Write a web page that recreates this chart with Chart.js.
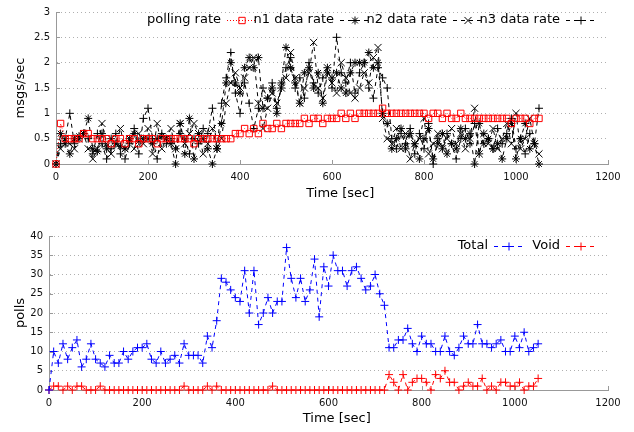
<!DOCTYPE html>
<html>
<head>
<meta charset="utf-8">
<title>data rate and polls</title>
<script src="https://cdn.jsdelivr.net/npm/chart.js"></script>
<style>
  html, body { margin: 0; padding: 0; background: #fff; }
  #wrap { position: relative; width: 634px; height: 432px; }
  canvas { position: absolute; left: 0; }
  #rates { top: 0; }
  #polls { top: 215px; }
</style>
</head>
<body>
<div id="wrap">
  <canvas id="rates" width="634" height="215"></canvas>
  <canvas id="polls" width="634" height="217"></canvas>
</div>
<script>
// sample times (sec)
const timeSec = [
  0, 10, 20, 30, 40, 50, 60, 70, 80, 90,
  100, 110, 120, 130, 140, 150, 160, 170, 180, 190,
  200, 210, 220, 230, 240, 250, 260, 270, 280, 290,
  300, 310, 320, 330, 340, 350, 360, 370, 380, 390,
  400, 410, 420, 430, 440, 450, 460, 470, 480, 490,
  500, 510, 520, 530, 540, 550, 560, 570, 580, 590,
  600, 610, 620, 630, 640, 650, 660, 670, 680, 690,
  700, 710, 720, 730, 740, 750, 760, 770, 780, 790,
  800, 810, 820, 830, 840, 850, 860, 870, 880, 890,
  900, 910, 920, 930, 940, 950, 960, 970, 980, 990,
  1000, 1010, 1020, 1030, 1040, 1050
];

// msgs/sec
const pollingRate = [
  0, 0.8, 0.5, 0.5, 0.5, 0.5, 0.6, 0.6, 0.5, 0.5,
  0.5, 0.5, 0.4, 0.5, 0.5, 0.4, 0.5, 0.5, 0.4, 0.5,
  0.5, 0.5, 0.4, 0.5, 0.5, 0.5, 0.5, 0.5, 0.5, 0.5,
  0.4, 0.5, 0.5, 0.5, 0.5, 0.5, 0.5, 0.5, 0.5, 0.6,
  0.6, 0.7, 0.6, 0.7, 0.6, 0.8, 0.7, 0.7, 0.8, 0.7,
  0.8, 0.8, 0.8, 0.8, 0.9, 0.8, 0.9, 0.9, 0.8, 0.9,
  0.9, 0.9, 1.0, 0.9, 1.0, 0.9, 1.0, 1.0, 1.0, 1.0,
  1.0, 1.1, 1.0, 1.0, 1.0, 1.0, 1.0, 1.0, 1.0, 1.0,
  1.0, 0.9, 1.0, 1.0, 0.9, 1.0, 0.9, 0.9, 1.0, 0.9,
  0.9, 0.9, 0.9, 0.9, 0.9, 0.9, 0.9, 0.9, 0.9, 0.8,
  0.9, 0.9, 0.9, 0.8, 0.9, 0.9
];
const n1Rate = [
  0, 0.6, 0.4, 0.2, 0.5, 0.55, 0.6, 0.9, 0.3, 0.25,
  0.6, 0.3, 0.5, 0.4, 0.35, 0.3, 0.5, 0.6, 0.45, 0.5,
  0.5, 0.4, 0.5, 0.55, 0.5, 0.4, 0, 0.8, 0.2, 0.9,
  0.1, 0.6, 0.5, 0.3, 0, 0.3, 0.8, 1.6, 2.0, 1.6,
  1.4, 1.9, 2.1, 1.9, 2.1, 1.1, 1.3, 1.5, 1.0, 1.6,
  2.3, 1.9, 1.6, 1.2, 1.8, 1.9, 1.5, 1.8, 1.2, 1.8,
  1.7, 1.8, 1.5, 1.4, 1.8, 2.0, 2.0, 2.0, 2.2, 1.9,
  2.0, 1.0, 0.8, 0.3, 0.5, 0.7, 0.3, 0.6, 0.4, 0.1,
  0.5, 0.7, 0.1, 0.4, 0.6, 0.2, 0.4, 0.3, 0.7, 0.5,
  0.6, 0, 0.8, 0.4, 0.5, 0.3, 0.4, 0.1, 0.5, 0.8,
  0.1, 0.5, 0.8, 0.3, 0.4, 0
];
const n2Rate = [
  0, 0.3, 0.5, 0.4, 0.3, 0.5, 0.6, 0.3, 0.1, 0.3,
  0.8, 0.4, 0.2, 0.4, 0.7, 0.3, 0.5, 0.3, 0.6, 0.4,
  0.7, 0.2, 0.8, 0.3, 0.5, 0.7, 0.3, 0.8, 0.4, 0.6,
  0.8, 0.6, 0.2, 0.4, 0.7, 0.3, 0.5, 1.2, 1.6, 1.8,
  1.5, 1.7, 1.9, 2.1, 1.2, 0.7, 1.1, 1.4, 1.2, 1.5,
  1.7, 2.2, 1.7, 1.2, 1.5, 1.8, 2.4, 1.5, 1.3, 1.9,
  1.6, 1.4, 2.0, 1.7, 1.4, 1.3, 1.5, 1.8, 1.6, 2.1,
  2.3, 0.9, 0.5, 0.4, 0.7, 0.3, 0.6, 0.1, 0.4, 0.5,
  0.9, 0.2, 0.4, 0.6, 0.3, 0.5, 0.7, 0.4, 0.6, 0.3,
  0.5, 1.1, 0.2, 0.6, 0.4, 0.7, 0.3, 0.5, 0.8, 0.4,
  1.0, 0.3, 0.5, 0.9, 0.4, 0.2
];
const n3Rate = [
  0, 0.4, 0.5, 1.0, 0.4, 0.5, 0.6, 0.5, 0.2, 0.6,
  0.4, 0.1, 0.3, 0.6, 0.2, 0.1, 0.4, 0.7, 0.2, 0.9,
  1.1, 0.5, 0.1, 0.6, 0.4, 0.5, 0.3, 0.6, 0.5, 0.2,
  0.5, 0.4, 0.7, 0.6, 1.1, 0.3, 1.2, 1.7, 2.2, 1.4,
  1.0, 1.6, 1.2, 0.7, 1.1, 1.5, 1.3, 1.6, 1.1, 1.5,
  1.9, 2.1, 1.5, 1.7, 1.3, 2.0, 1.6, 1.4, 1.7, 1.9,
  1.5, 2.5, 1.8, 1.6, 2.0, 1.4, 1.8, 2.0, 1.5, 1.3,
  1.9, 1.7, 1.5, 0.5, 0.3, 0.6, 0.4, 0.7, 0.2, 0.6,
  0.3, 0.8, 0, 0.5, 0.3, 0.6, 0.4, 0.1, 0.5, 0.7,
  0.4, 0.8, 0.2, 0.6, 0.5, 0.3, 0.7, 0.4, 0.6, 0.9,
  0.3, 0.5, 0.2, 0.6, 0.4, 1.1
];

// polls per interval
const totalPolls = [
  0, 10, 7, 12, 8, 11, 13, 6, 8, 12,
  8, 7, 6, 9, 7, 7, 10, 8, 10, 11,
  11, 12, 8, 7, 10, 7, 8, 9, 7, 12,
  9, 9, 9, 7, 14, 11, 18, 29, 28, 26,
  24, 23, 31, 20, 31, 17, 20, 24, 20, 23,
  23, 37, 29, 24, 29, 23, 26, 34, 19, 32,
  27, 35, 31, 31, 27, 31, 32, 29, 26, 27,
  30, 25, 22, 11, 11, 13, 13, 16, 12, 10,
  14, 12, 12, 10, 10, 14, 10, 9, 11, 14,
  12, 12, 17, 12, 12, 11, 12, 13, 10, 10,
  14, 11, 15, 10, 11, 12
];
const voidPolls = [
  0, 1, 1, 0, 1, 0, 1, 1, 0, 0,
  0, 1, 0, 0, 0, 0, 0, 0, 0, 0,
  0, 0, 0, 0, 0, 0, 0, 0, 0, 1,
  0, 0, 0, 0, 1, 0, 1, 0, 0, 0,
  0, 0, 0, 0, 0, 0, 0, 0, 1, 0,
  0, 0, 0, 0, 0, 0, 0, 0, 0, 0,
  0, 0, 0, 0, 0, 0, 0, 0, 0, 0,
  0, 0, 0, 4, 2, 0, 4, 0, 2, 3,
  3, 2, 0, 4, 3, 5, 2, 2, 0, 1,
  2, 1, 1, 3, 0, 1, 0, 2, 2, 1,
  1, 2, 0, 1, 1, 3
];

const FONT = 'DejaVu Sans';
const AXIS_GREY = '#999';

const toPoints = (vals) => timeSec.map((t, i) => ({ x: t, y: vals[i] }));
// plain numbers on the axes: "0", "0.5", "1200"
const plainTick = (v) => String(v);

function series(label, vals, color, dash, mark, radius) {
  return {
    label: label,
    data: toPoints(vals),
    borderColor: color,
    borderWidth: 1,
    borderDash: dash,
    tension: 0,
    pointStyle: mark,
    pointRadius: radius,
    pointBorderWidth: 1,
    pointBorderColor: color,
    pointBackgroundColor: 'rgba(0,0,0,0)',
    clip: false
  };
}

// small marker used in the key samples
function drawMark(ctx, style, x, y, r, color) {
  ctx.strokeStyle = color;
  ctx.beginPath();
  if (style === 'rect') {
    const s = r * Math.SQRT1_2;
    ctx.rect(x - s, y - s, 2 * s, 2 * s);
  }
  if (style === 'cross' || style === 'star') {
    ctx.moveTo(x - r, y); ctx.lineTo(x + r, y);
    ctx.moveTo(x, y - r); ctx.lineTo(x, y + r);
  }
  if (style === 'crossRot' || style === 'star') {
    const d = r * Math.SQRT1_2;
    ctx.moveTo(x - d, y - d); ctx.lineTo(x + d, y + d);
    ctx.moveTo(x - d, y + d); ctx.lineTo(x + d, y - d);
  }
  ctx.stroke();
}

// gnuplot style key: text first, then line sample with its marker
const keyRow = {
  id: 'keyRow',
  afterDraw(chart, args, opts) {
    const ctx = chart.ctx;
    const sets = chart.data.datasets;
    ctx.save();
    ctx.font = '13px "' + FONT + '"';
    ctx.textAlign = 'right';
    ctx.textBaseline = 'middle';
    sets.forEach((ds, i) => {
      const colRight = opts.right - (sets.length - 1 - i) * opts.colWidth;
      const x1 = colRight - 2, x0 = x1 - 29;
      ctx.fillStyle = '#000';
      ctx.fillText(ds.label, x0 - 6, opts.y);
      ctx.strokeStyle = ds.borderColor;
      ctx.lineWidth = 1;
      ctx.setLineDash(ds.borderDash);
      ctx.beginPath();
      ctx.moveTo(x0, opts.y + 0.5);
      ctx.lineTo(x1, opts.y + 0.5);
      ctx.stroke();
      ctx.setLineDash([]);
      drawMark(ctx, ds.pointStyle, (x0 + x1) / 2 + 0.5, opts.y + 0.5, ds.pointRadius, ds.borderColor);
    });
    ctx.restore();
  }
};

// tick marks pointing into the plot
const inwardTicks = {
  id: 'inwardTicks',
  beforeDatasetsDraw(chart) {
    const { ctx, chartArea: a, scales } = chart;
    ctx.save();
    ctx.strokeStyle = AXIS_GREY;
    ctx.lineWidth = 1;
    ctx.beginPath();
    scales.x.ticks.forEach(t => {
      const px = Math.round(scales.x.getPixelForValue(t.value)) + 0.5;
      ctx.moveTo(px, a.bottom);
      ctx.lineTo(px, a.bottom - 4);
    });
    scales.y.ticks.forEach(t => {
      const py = Math.round(scales.y.getPixelForValue(t.value)) + 0.5;
      ctx.moveTo(a.left, py);
      ctx.lineTo(a.left + 4, py);
    });
    ctx.stroke();
    ctx.restore();
  }
};

function makeOptions(cfg) {
  return {
    responsive: false,
    animation: false,
    events: [],
    layout: { padding: { top: cfg.top, right: 26, left: 0, bottom: 0 } },
    scales: {
      x: {
        type: 'linear',
        min: 0,
        max: 1200,
        afterFit: (s) => { s.height = cfg.xHeight; },
        ticks: { stepSize: 200, padding: 7, color: '#111', font: { family: FONT, size: 10 }, callback: plainTick },
        grid: { display: false, drawTicks: false },
        border: { display: true, color: AXIS_GREY, width: 1 },
        title: {
          display: true,
          text: '    Time [sec]',
          color: '#000',
          font: { family: FONT, size: 13 },
          padding: { top: 0, bottom: cfg.xTitleBottom }
        }
      },
      y: {
        min: 0,
        max: cfg.yMax,
        afterFit: (s) => { s.width = cfg.yWidth; },
        ticks: { stepSize: cfg.yStep, padding: 6, color: '#111', font: { family: FONT, size: 10 }, callback: plainTick },
        grid: { color: 'rgba(150,150,150,0.75)', drawTicks: false },
        border: { display: true, color: AXIS_GREY, width: 1, dash: [1, 3] },
        title: {
          display: true,
          text: cfg.yTitle,
          color: '#000',
          font: { family: FONT, size: 13 },
          padding: { top: 13, bottom: 0 }
        }
      }
    },
    plugins: {
      legend: { display: false },
      tooltip: { enabled: false },
      keyRow: { right: 597, colWidth: cfg.colWidth, y: cfg.keyY }
    }
  };
}

new Chart(document.getElementById('rates'), {
  type: 'line',
  data: {
    datasets: [
      series('polling rate', pollingRate, '#ff0000', [1, 2], 'rect', 4.5),
      series('n1 data rate', n1Rate, '#000000', [4, 4], 'star', 4),
      series('n2 data rate', n2Rate, '#000000', [4, 4], 'crossRot', 5),
      series('n3 data rate', n3Rate, '#000000', [4, 4], 'cross', 4)
    ]
  },
  options: makeOptions({
    top: 10, xHeight: 51, xTitleBottom: 14, yMax: 3, yStep: 0.5, yWidth: 56,
    yTitle: 'msgs/sec', colWidth: 113, keyY: 20
  }),
  plugins: [inwardTicks, keyRow]
});

new Chart(document.getElementById('polls'), {
  type: 'line',
  data: {
    datasets: [
      series('Total', totalPolls, '#0000ff', [4, 4], 'cross', 4),
      series('Void', voidPolls, '#ff0000', [4, 4], 'cross', 4)
    ]
  },
  options: makeOptions({
    top: 21, xHeight: 42, xTitleBottom: 6, yMax: 40, yStep: 5, yWidth: 49,
    yTitle: 'polls', colWidth: 72, keyY: 31
  }),
  plugins: [inwardTicks, keyRow]
});
</script>
</body>
</html>
